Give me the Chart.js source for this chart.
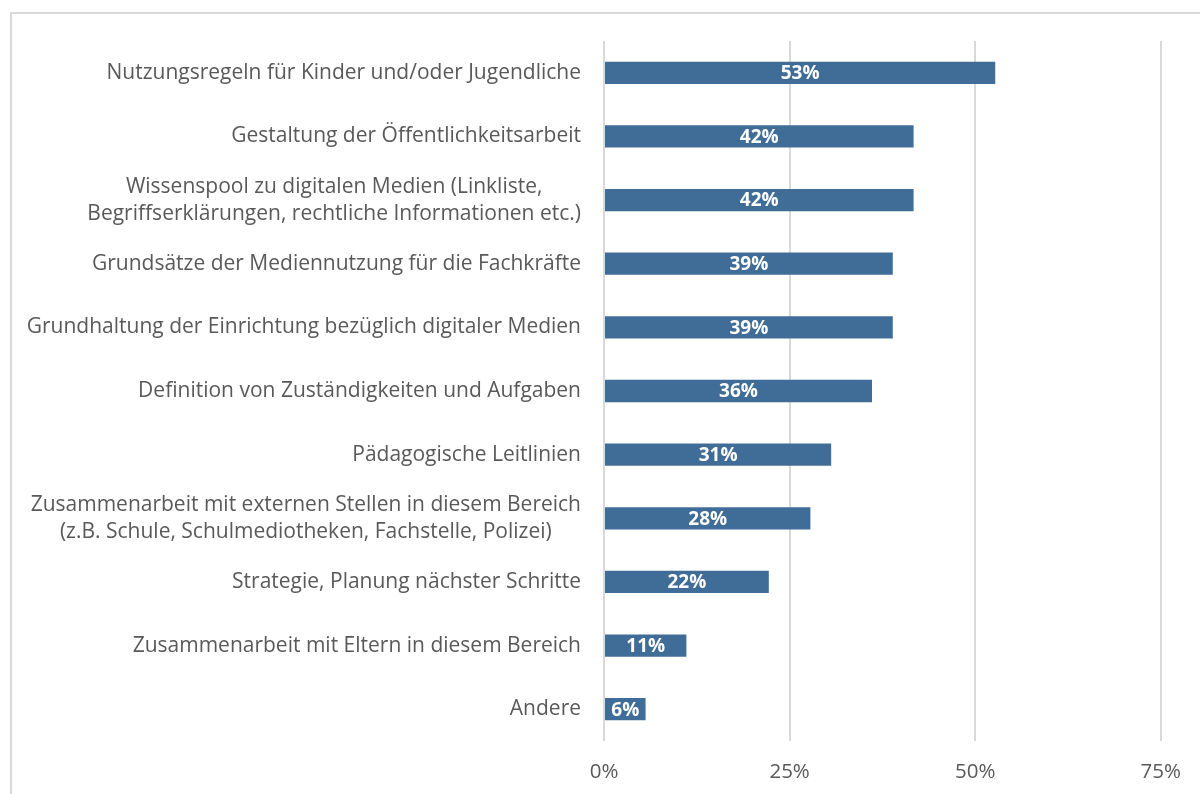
<!DOCTYPE html>
<html>
<head>
<meta charset="utf-8">
<script src="https://cdn.jsdelivr.net/npm/chart.js@4/dist/chart.umd.min.js"></script>
<style>
  html, body { margin: 0; padding: 0; background: #fff; }
  #wrap { position: relative; width: 1200px; height: 794px; overflow: hidden; }
  #frame { position: absolute; left: 10px; top: 12px; width: 1300px; height: 900px; border: 2px solid #d9d9d9; box-sizing: border-box; }
  canvas { position: absolute; left: 0; top: 0; }
</style>
</head>
<body>
<div id="wrap">
  <div id="frame"></div>
  <canvas id="c" width="1200" height="794"></canvas>
</div>
<script>
const categories = [
  ["Nutzungsregeln für Kinder und/oder Jugendliche"],
  ["Gestaltung der Öffentlichkeitsarbeit"],
  ["Wissenspool zu digitalen Medien (Linkliste,", "Begriffserklärungen, rechtliche Informationen etc.)"],
  ["Grundsätze der Mediennutzung für die Fachkräfte"],
  ["Grundhaltung der Einrichtung bezüglich digitaler Medien"],
  ["Definition von Zuständigkeiten und Aufgaben"],
  ["Pädagogische Leitlinien"],
  ["Zusammenarbeit mit externen Stellen in diesem Bereich", "(z.B. Schule, Schulmediotheken, Fachstelle, Polizei)"],
  ["Strategie, Planung nächster Schritte"],
  ["Zusammenarbeit mit Eltern in diesem Bereich"],
  ["Andere"]
];
const values = [52.7, 41.7, 41.7, 38.9, 38.9, 36.1, 30.6, 27.8, 22.2, 11.1, 5.6];
const xTicks = [0, 25, 50, 75];

const FONT = "'Open Sans', 'DejaVu Sans', sans-serif";

const labelPlugin = {
  id: 'labels',
  afterDatasetsDraw(chart) {
    const ctx = chart.ctx;
    const meta = chart.getDatasetMeta(0);
    const yScale = chart.scales.y;
    ctx.save();
    ctx.font = "bold 19px " + FONT;
    ctx.fillStyle = "#ffffff";
    ctx.textAlign = "center";
    ctx.textBaseline = "middle";
    meta.data.forEach((bar, i) => {
      const cx = (bar.x + bar.base) / 2;
      ctx.fillText(Math.round(values[i]) + "%", cx, bar.y + 1);
    });
    ctx.font = "21px " + FONT;
    ctx.fillStyle = "#595959";
    const right = chart.chartArea.left - 23;
    const lh = 27;
    categories.forEach((lines, i) => {
      const y = yScale.getPixelForValue(i);
      const widths = lines.map(l => ctx.measureText(l).width);
      const w = Math.max(...widths);
      const center = right - w / 2;
      ctx.textAlign = "center";
      lines.forEach((l, k) => {
        const ly = y + (k - (lines.length - 1) / 2) * lh;
        ctx.fillText(l, center, ly);
      });
    });
    ctx.restore();
  }
};

new Chart(document.getElementById('c'), {
  type: 'bar',
  data: {
    labels: categories.map(c => c.join(' ')),
    datasets: [{
      data: values,
      backgroundColor: '#406d97',
      borderWidth: 0,
      barPercentage: 0.35,
      categoryPercentage: 1.0
    }]
  },
  options: {
    indexAxis: 'y',
    responsive: false,
    animation: false,
    devicePixelRatio: 1,
    layout: { padding: { top: 41, bottom: 0, left: 0, right: 37 } },
    plugins: { legend: { display: false }, tooltip: { enabled: false } },
    scales: {
      x: {
        min: 0, max: 75,
        afterBuildTicks(scale) { scale.ticks = xTicks.map(v => ({ value: v })); },
        afterFit(scale) { scale.height = 53; },
        grid: { color: '#d9d9d9', lineWidth: 2, drawTicks: false },
        border: { display: false },
        ticks: {
          padding: 19,
          color: '#595959',
          font: { family: FONT, size: 20.5 },
          callback: v => v + '%'
        }
      },
      y: {
        grid: { display: false },
        border: { display: false },
        ticks: { display: false },
        afterFit(scale) { scale.width = 604; }
      }
    }
  },
  plugins: [labelPlugin]
});
</script>
</body>
</html>
